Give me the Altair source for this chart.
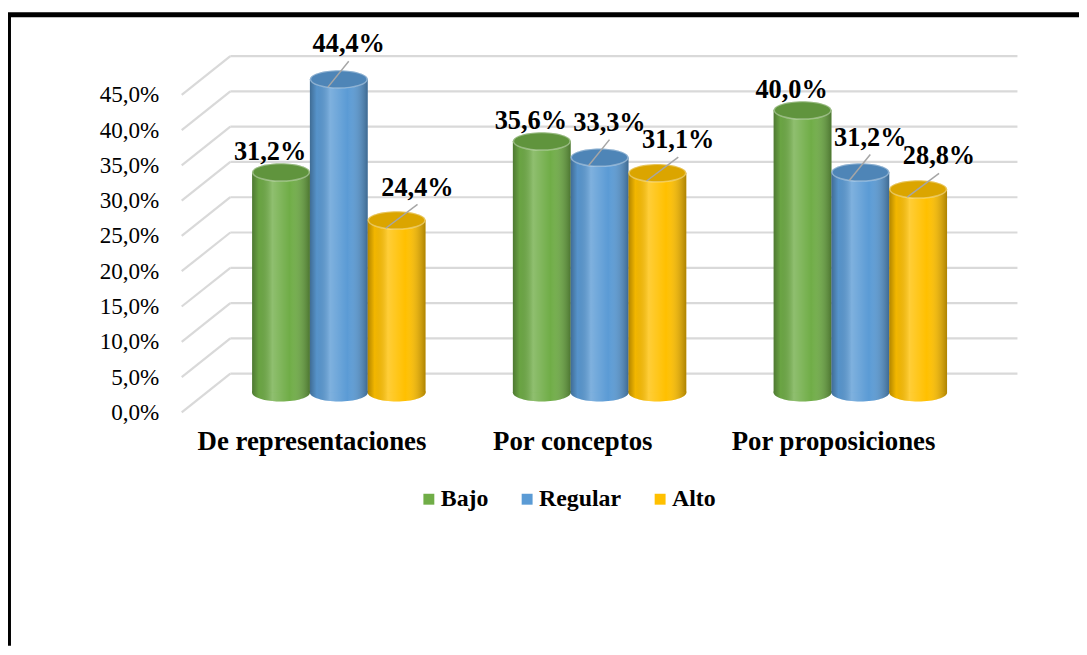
import altair as alt
import pandas as pd

# ---- data ----
categories = ["De representaciones", "Por conceptos", "Por proposiciones"]
series = ["Bajo", "Regular", "Alto"]
bajo = [31.2, 35.6, 40.0]
regular = [44.4, 33.3, 31.2]
alto = [24.4, 31.1, 28.8]
y_ticks = [0, 5, 10, 15, 20, 25, 30, 35, 40, 45]
colors = ["#70AD47", "#5B9BD5", "#FFC000"]

rows = []
for s, vals in zip(series, [bajo, regular, alto]):
    for c, v in zip(categories, vals):
        rows.append({"cat": c, "series": s, "value": v})
df = pd.DataFrame(rows)
grid = pd.DataFrame({"v": y_ticks})
one = pd.DataFrame({"a": [0]})

# ---- layout / style ----
W, H = 842, 355.5
PAD = {"left": 175, "top": 29.5, "right": 62, "bottom": 255}
FONT = "Liberation Serif, DejaVu Serif, serif"
BACK_DX, BACK_DY, FRONT_DY = 49, -19, 20
SUB = 58.3
ELL = "M-1,0A1,0.31 0 1,0 1,0A1,0.31 0 1,0 -1,0Z"
ESIZE = SUB * SUB
GRID_C = "#d9d9d9"

pct = "replace(format(datum.value, '.1f'), '.', ',') + '%'"

yscale = alt.Scale(domain=[0, 50], nice=False, zero=True)
y_axis = alt.Axis(values=y_ticks, labelExpr=pct, labelOffset=FRONT_DY, labelFont=FONT,
                  labelFontSize=23.3, labelColor="black", labelPadding=23, tickSize=0,
                  ticks=False, domain=False, grid=False, title=None)


def Y(field):
    return alt.Y(field, scale=yscale, title=None, axis=y_axis)


x_enc = alt.X(
    "cat:N", sort=categories, title=None,
    scale=alt.Scale(paddingInner=0.335, paddingOuter=0.27),
    axis=alt.Axis(labelAngle=0, labelFont=FONT, labelFontSize=27, labelFontWeight="bold",
                  labelColor="black", labelPadding=36, labelOffset=-27, domain=False,
                  ticks=False, grid=False, labelLimit=0),
)
xo_enc = alt.XOffset("series:N", sort=series, scale=alt.Scale(paddingInner=0, paddingOuter=0))
color_enc = alt.Color(
    "series:N", sort=series, scale=alt.Scale(domain=series, range=colors),
    legend=alt.Legend(title=None, orient="none", legendX=237, legendY=451, direction="horizontal",
                      symbolType="square", symbolSize=121, symbolStrokeWidth=0, symbolOpacity=1,
                      labelFont=FONT, labelFontSize=24, labelFontWeight="bold", labelColor="black",
                      columnPadding=27, labelOffset=0, padding=0),
)

shade = alt.Gradient(
    gradient="linear", x1=0, x2=1, y1=0, y2=0,
    stops=[
        alt.GradientStop(offset=0, color="rgba(0,0,0,0.30)"),
        alt.GradientStop(offset=0.12, color="rgba(0,0,0,0.05)"),
        alt.GradientStop(offset=0.35, color="rgba(255,255,255,0.22)"),
        alt.GradientStop(offset=0.65, color="rgba(255,255,255,0.0)"),
        alt.GradientStop(offset=1, color="rgba(0,0,0,0.32)"),
    ],
)

# gridlines (3D look): diagonal from front to back, then horizontal at back
diag = alt.Chart(grid).mark_rule(color=GRID_C, strokeWidth=2.2, yOffset=FRONT_DY, y2Offset=BACK_DY).encode(
    x=alt.value(0), x2=alt.value(BACK_DX), y=Y("v:Q"), y2="v:Q",
)
back = alt.Chart(grid).mark_rule(color=GRID_C, strokeWidth=2.2, yOffset=BACK_DY).encode(
    x=alt.value(BACK_DX), x2=alt.value(W), y=Y("v:Q"),
)

base = alt.Chart(df)
bottom = base.transform_calculate(base="0").mark_point(
    shape=ELL, size=ESIZE, filled=True, opacity=1, strokeWidth=0
).encode(x=x_enc, xOffset=xo_enc, y=Y("base:Q"), color=color_enc)
bottom_sh = base.transform_calculate(base="0").mark_point(
    shape=ELL, size=ESIZE, filled=True, opacity=1, strokeWidth=0, color=shade
).encode(x=x_enc, xOffset=xo_enc, y=Y("base:Q"))

bars = base.mark_bar().encode(x=x_enc, xOffset=xo_enc, y=Y("value:Q"), color=color_enc)
bars_sh = base.mark_bar(color=shade).encode(x=x_enc, xOffset=xo_enc, y=Y("value:Q"))

top = base.mark_point(shape=ELL, size=ESIZE, filled=True, opacity=1, strokeWidth=0).encode(
    x=x_enc, xOffset=xo_enc, y=Y("value:Q"), color=color_enc)
top_dk = base.mark_point(shape=ELL, size=ESIZE, filled=True, opacity=0.14, color="black",
                         strokeWidth=0).encode(x=x_enc, xOffset=xo_enc, y=Y("value:Q"))
top_rim = base.mark_point(shape=ELL, size=ESIZE * 0.96, filled=False, opacity=0.35,
                          color="white", strokeWidth=1.5).encode(
    x=x_enc, xOffset=xo_enc, y=Y("value:Q"))

label_offsets = {"Bajo": (-11, -20), "Regular": (10, -35), "Alto": (21, -33)}
labels = []
for s in series:
    dx, dy = label_offsets[s]
    labels.append(
        base.transform_filter(alt.datum.series == s)
        .transform_calculate(label=pct)
        .mark_text(font=FONT, fontSize=26.5, fontWeight="bold", color="black", dx=dx, dy=dy,
                   align="center", baseline="middle")
        .encode(x=x_enc, xOffset=xo_enc, y=Y("value:Q"), text="label:N")
    )

leaders = []
for s, sx in [("Regular", 0), ("Alto", SUB)]:
    dx, dy = label_offsets[s]
    leaders.append(
        base.transform_filter(alt.datum.series == s)
        .mark_rule(color="#a6a6a6", strokeWidth=1.5, xOffset=sx + dx, yOffset=dy + 17,
                   x2Offset=sx - 11, y2Offset=8)
        .encode(x=x_enc, x2="cat:N", y=Y("value:Q"), y2="value:Q")
    )

frame_left = alt.Chart(one).mark_rule(color="black", strokeWidth=5).encode(
    x=alt.value(-PAD["left"] + 0.5), y=alt.value(-25), y2=alt.value(H + PAD["bottom"]))
frame_top = alt.Chart(one).mark_rule(color="black", strokeWidth=5).encode(
    x=alt.value(-PAD["left"]), x2=alt.value(W + PAD["right"]), y=alt.value(-25))

chart = alt.layer(
    diag, back, bottom, bottom_sh, bars, bars_sh, top, top_dk, top_rim,
    *leaders, *labels, frame_left, frame_top
).properties(
    width=W, height=H, autosize=alt.AutoSizeParams(type="none"), padding=PAD,
    background="white",
).configure_view(strokeWidth=0)

chart.save("out.html", embed_options={"renderer": "svg", "actions": False})
